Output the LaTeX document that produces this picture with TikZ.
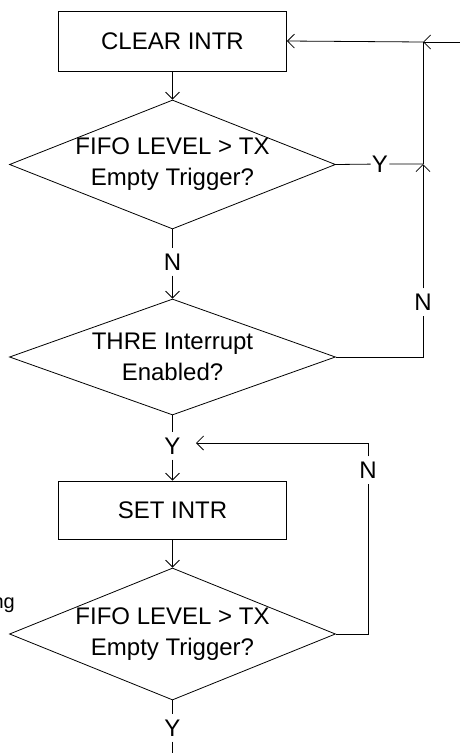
\documentclass[tikz,border=0pt]{standalone}
\usepackage{fontspec}
\setmainfont{Liberation Sans}
\usetikzlibrary{shapes.geometric,arrows.meta}

\begin{document}
\begin{tikzpicture}[x=1pt, y=-1pt, >={Straight Barb[length=7pt,width=14pt]}, line width=0.8pt,
    font=\fontsize{24}{31}\selectfont,
    box/.style={draw, rectangle, minimum width=228pt, minimum height=60pt},
    test/.style={draw, diamond, inner sep=0pt, minimum width=326pt},
    lab/.style={inner xsep=1pt, inner ysep=5pt}]
    \def\fifotext{FIFO LEVEL > TX\\Empty Trigger?}
    \useasboundingbox (0,0) rectangle (460,753);
    % Steps and tests
    \node[box] (clear) at (172.5,41) {CLEAR INTR};
    \node[test, minimum height=129pt, label={[align=center]center:\fifotext}] (fifoA) at (172.5,164.5) {};
    \node[test, minimum height=116pt, label={[align=center]center:THRE Interrupt\\Enabled?}] (thre) at (172.5,357) {};
    \node[box, minimum height=58pt] (setintr) at (172.5,510) {SET INTR};
    \node[test, minimum height=132pt, label={[align=center]center:\fifotext}] (fifoB) at (172.5,634) {};
    % Branch labels
    \node[lab] (yA) at (380,164) {Y};
    \node[lab] (nA) at (172.5,262) {N};
    \node[lab] (nB) at (423,302) {N};
    \node[lab] (yB) at (172.5,446) {Y};
    \node[lab] (nC) at (368,470) {N};
    \node[lab] (yC) at (172.5,728) {Y};
    \node[anchor=base east, font=\fontsize{20}{24}\selectfont] (ng) at (18.5,608) {ng};
    % Loose ends
    \coordinate (edgein) at (460,42);
    \coordinate (jtop) at (423,42);
    \coordinate (jmid) at (423,164);
    \coordinate (loopin) at (196,443);
    \coordinate (exit) at (172.5,753);
    % Main flow
    \draw[->] (clear.south) -- (fifoA.north);
    \draw (fifoA.south) -- (nA);
    \draw[->] (nA) -- (thre.north);
    \draw (thre.south) -- (yB);
    \draw[->] (yB) -- (setintr.north);
    \draw[->] (setintr.south) -- (fifoB.north);
    \draw (fifoB.south) -- (yC) -- (exit);
    % Return path to CLEAR INTR
    \draw (fifoA.east) -- (yA) -- (jmid);
    \draw (thre.east) -| (nB);
    \draw[->] (nB) -- (jmid);
    \draw (jmid) -- (jtop);
    \draw[->] (edgein) -- (jtop);
    \draw[->] (jtop) -- (clear.east);
    % Wait loop
    \draw (fifoB.east) -| (nC);
    \draw[->] (nC) |- (loopin);
\end{tikzpicture}
\end{document}
